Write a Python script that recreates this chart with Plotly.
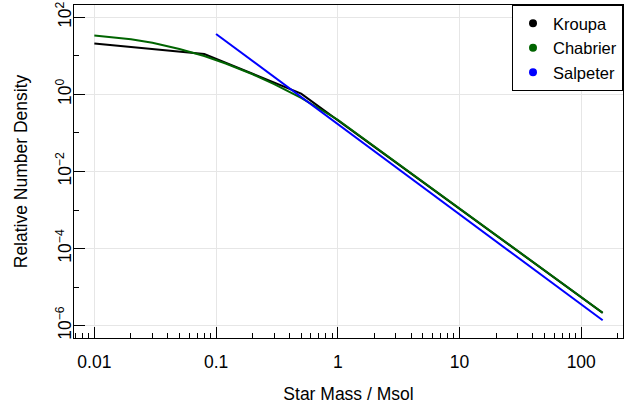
import numpy as np
import plotly.graph_objects as go

# ---- data ----
kroupa_mass = [0.01, 0.08, 0.5, 150]
kroupa_density = [21.0, 11.2, 1.05, 2.15e-6]

chabrier_mass = [0.01, 0.015, 0.02, 0.03, 0.05, 0.08, 0.12, 0.2, 0.3, 0.5, 0.7, 1.0, 150]
chabrier_density = [33.8, 30.4, 27.1, 21.8, 15.1, 9.9, 6.35, 3.33, 1.85, 0.81, 0.44, 0.22, 2.17e-6]

salpeter_mass = [0.1, 150]
salpeter_density = [37.0, 1.38e-6]

series_names = ["Kroupa", "Chabrier", "Salpeter"]
series_colors = ["black", "#006400", "#0000FF"]

xlim = [0.01, 150]
ylim = [1e-6, 1e2]

x_tick_vals = [0.01, 0.1, 1, 10, 100]
x_tick_text = ["0.01", "0.1", "1", "10", "100"]
y_tick_vals = [1e-6, 1e-4, 1e-2, 1e0, 1e2]
y_tick_text = ["10<sup>\u22126</sup>", "10<sup>\u22124</sup>", "10<sup>\u22122</sup>",
               "10<sup>0</sup>", "10<sup>2</sup>"]
y_minor_vals = [1e-5, 1e-3, 1e-1, 1e1]
x_minor_vals = [m * 10.0 ** d for d in range(-3, 3) for m in range(2, 10)]

# ---- figure ----
def expand(lim):
    a, b = np.log10(lim[0]), np.log10(lim[1])
    pad = 0.04 * (b - a)
    return [a - pad, b + pad]

FONT = "Liberation Sans, Arial, Helvetica, sans-serif"
FS = 17.5
fig = go.Figure()

data = [(kroupa_mass, kroupa_density), (chabrier_mass, chabrier_density),
        (salpeter_mass, salpeter_density)]
for (mx, dy), name, col in zip(data, series_names, series_colors):
    fig.add_trace(go.Scatter(x=mx, y=dy, mode="lines", name=name,
                             line=dict(color=col, width=2), showlegend=False,
                             hoverinfo="skip"))
# legend entries (bullets)
for name, col in zip(series_names, series_colors):
    fig.add_trace(go.Scatter(x=[None], y=[None], mode="markers", name=name,
                             marker=dict(color=col, size=8), showlegend=True))

fig.update_layout(
    width=633, height=406,
    margin=dict(l=74, r=10, t=5, b=68, pad=0, autoexpand=False),
    paper_bgcolor="white", plot_bgcolor="white",
    font=dict(family=FONT, size=FS, color="black"),
    showlegend=True,
    legend=dict(x=1, y=1, xanchor="right", yanchor="top",
                bordercolor="black", borderwidth=1, bgcolor="white",
                font=dict(size=16.5), itemwidth=30,
                tracegroupgap=0),
)
fig.update_xaxes(
    type="log", range=expand(xlim), automargin=False,
    tickmode="array", tickvals=x_tick_vals, ticktext=x_tick_text,
    ticks="inside", ticklen=11, tickwidth=1, tickcolor="black",
    minor=dict(ticks="inside", ticklen=5, tickwidth=1, tickcolor="black",
               tickmode="array", tickvals=x_minor_vals, showgrid=False),
    showgrid=True, gridcolor="#e6e6e6", gridwidth=1,
    showline=True, linecolor="black", linewidth=1, mirror=True,
    title=dict(text="Star Mass / Msol", standoff=16, font=dict(size=FS)),
    ticklabelstandoff=8,
)
fig.update_yaxes(
    type="log", range=expand(ylim), automargin=False,
    tickmode="array", tickvals=y_tick_vals, ticktext=y_tick_text,
    tickangle=-90,
    ticks="inside", ticklen=11, tickwidth=1, tickcolor="black",
    minor=dict(ticks="inside", ticklen=5, tickwidth=1, tickcolor="black",
               tickmode="array", tickvals=y_minor_vals, showgrid=False),
    showgrid=True, gridcolor="#e6e6e6", gridwidth=1,
    showline=True, linecolor="black", linewidth=1, mirror=True,
    title=dict(text="Relative Number Density", standoff=20, font=dict(size=FS)),
    ticklabelstandoff=-5,
)

fig.write_html("out.html", config={"displayModeBar": False},
               post_script="document.body.style.margin='0';document.body.style.padding='0';")
